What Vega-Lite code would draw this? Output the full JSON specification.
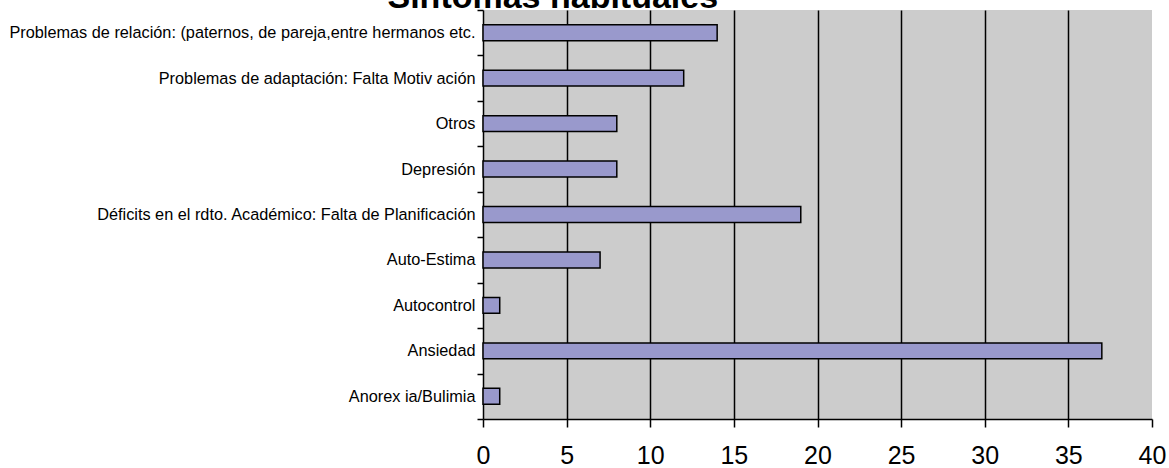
{
  "$schema": "https://vega.github.io/schema/vega-lite/v6.json",
  "width": 669,
  "height": 409,
  "autosize": {"type": "none"},
  "padding": {"left": 483, "top": 10, "right": 17, "bottom": 49},
  "background": "white",
  "config": {
    "view": {"stroke": null, "fill": "#cccccc"}
  },
  "data": {
    "values": [
      {"sintoma": "Problemas de relación: (paternos, de pareja,entre hermanos etc.", "n": 14},
      {"sintoma": "Problemas de adaptación: Falta Motiv ación", "n": 12},
      {"sintoma": "Otros", "n": 8},
      {"sintoma": "Depresión", "n": 8},
      {"sintoma": "Déficits en el rdto. Académico: Falta de Planificación", "n": 19},
      {"sintoma": "Auto-Estima", "n": 7},
      {"sintoma": "Autocontrol", "n": 1},
      {"sintoma": "Ansiedad", "n": 37},
      {"sintoma": "Anorex ia/Bulimia", "n": 1}
    ]
  },
  "mark": {"type": "bar", "fill": "#9999cc", "stroke": "black", "strokeWidth": 1.5, "height": {"band": 0.35}},
  "encoding": {
    "y": {
      "field": "sintoma",
      "type": "nominal",
      "sort": null,
      "title": "Síntomas habituales",
      "scale": {"paddingInner": 0, "paddingOuter": 0},
      "axis": {
        "titleAngle": 0,
        "titleX": -96,
        "titleY": -3,
        "titleAlign": "left",
        "titleBaseline": "alphabetic",
        "titleFont": "Liberation Sans",
        "titleFontSize": 34,
        "titleFontWeight": "bold",
        "titleColor": "black",
        "tickBand": "extent",
        "domainColor": "black",
        "domainWidth": 1.5,
        "tickColor": "black",
        "tickWidth": 1.5,
        "tickSize": 6,
        "labelPadding": 2,
        "labelFont": "Liberation Sans",
        "labelFontSize": 16.3,
        "labelColor": "black",
        "labelLimit": 600,
        "grid": false
      }
    },
    "x": {
      "field": "n",
      "type": "quantitative",
      "title": null,
      "scale": {"domain": [0, 40], "nice": false},
      "axis": {
        "values": [0, 5, 10, 15, 20, 25, 30, 35, 40],
        "grid": true,
        "gridColor": {"condition": {"test": "datum.value == 40 || datum.value == 0", "value": "transparent"}, "value": "black"},
        "gridWidth": 1.5,
        "gridOpacity": 1,
        "domainColor": "black",
        "domainWidth": 1.5,
        "tickColor": "black",
        "tickWidth": 1.5,
        "tickSize": 8,
        "labelPadding": 16,
        "labelFont": "Liberation Sans",
        "labelFontSize": 25,
        "labelColor": "black",
        "labelFlush": false
      }
    }
  }
}
